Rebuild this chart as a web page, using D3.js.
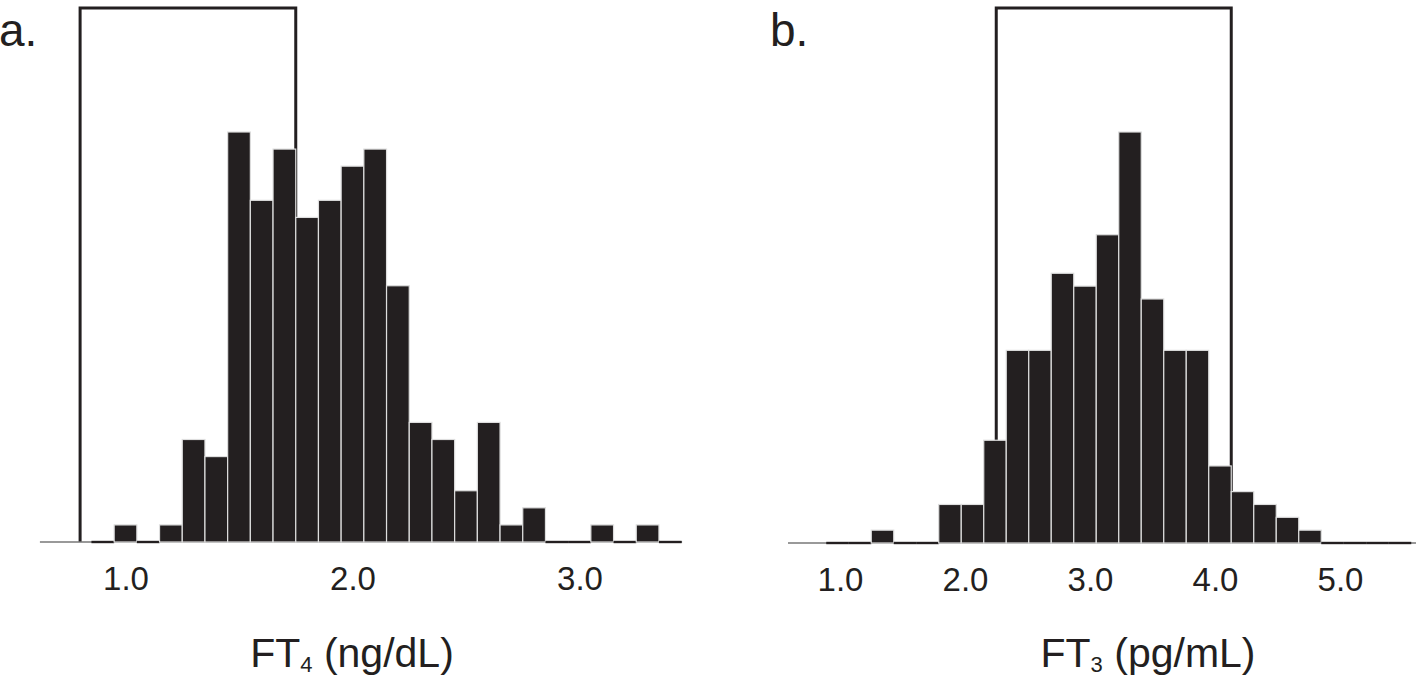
<!DOCTYPE html>
<html>
<head>
<meta charset="utf-8">
<script src="https://cdn.jsdelivr.net/npm/d3@7"></script>
<style>
  body { margin: 0; background: #fff; }
  text { font-family: "Liberation Sans", Arial, Helvetica, sans-serif; fill: #231f20; }
</style>
</head>
<body>
<div id="canvas"></div>
<script>
// FT4 histogram, bins of 0.1 ng/dL (lower edge of each bin)
var ft4Starts = [0.85, 0.95, 1.05, 1.15, 1.25, 1.35, 1.45, 1.55, 1.65, 1.75, 1.85, 1.95, 2.05,
                 2.15, 2.25, 2.35, 2.45, 2.55, 2.65, 2.75, 2.85, 2.95, 3.05, 3.15, 3.25, 3.35];
var ft4Counts = [0, 1, 0, 1, 6, 5, 24, 20, 23, 19, 20, 22, 23, 15, 7, 6, 3, 7, 1, 2, 0, 0, 1, 0, 1, 0];
var ft4Ticks = [1.0, 2.0, 3.0];
var ft4Range = [0.8, 1.75];

// FT3 histogram (lower edge of each bin)
var ft3Starts = [0.89, 1.07, 1.25, 1.43, 1.61, 1.79, 1.97, 2.15, 2.33, 2.51, 2.69, 2.87, 3.05,
                 3.23, 3.41, 3.59, 3.77, 3.95, 4.13, 4.31, 4.49, 4.67, 4.85, 5.03, 5.21, 5.39];
var ft3Counts = [0, 0, 1, 0, 0, 3, 3, 8, 15, 15, 21, 20, 24, 32, 19, 15, 15, 6, 4, 3, 2, 1, 0, 0, 0, 0];
var ft3Ticks = [1.0, 2.0, 3.0, 4.0, 5.0];
var ft3Range = [2.25, 4.13];

var w = 1424, h = 676;
var dark = "#231f20";

var svg = d3.select("#canvas").append("svg")
    .attr("width", w)
    .attr("height", h);

function drawPanel(p) {
    var x = d3.scaleLinear().domain(p.domain).range(p.range);
    var y = d3.scaleLinear().domain([0, d3.max(p.counts)]).range([p.base, 132]);
    var g = svg.append("g");

    var bins = p.starts.map(function(s, i) {
        return { x0: s, x1: s + p.binW, n: p.counts[i] };
    });

    // reference range bracket (behind the bars)
    g.append("path")
        .attr("d", "M" + x(p.refRange[0]) + "," + p.base + "V8H" + x(p.refRange[1]) + "V" + p.base)
        .attr("fill", "none")
        .attr("stroke", dark)
        .attr("stroke-width", 3);

    // baseline
    g.append("line")
        .attr("x1", x(p.extent[0])).attr("x2", x(p.extent[1]))
        .attr("y1", p.base).attr("y2", p.base)
        .attr("stroke", "#777")
        .attr("stroke-width", 1.5);

    g.selectAll("rect.bar")
        .data(bins)
        .enter().append("rect")
        .attr("class", "bar")
        .attr("x", d => x(d.x0))
        .attr("width", d => x(d.x1) - x(d.x0))
        .attr("y", d => d.n > 0 ? y(d.n) : p.base - 1.2)
        .attr("height", d => d.n > 0 ? p.base - y(d.n) : 2.4)
        .attr("fill", dark)
        .attr("stroke", d => d.n > 0 ? "#dedede" : "none")
        .attr("stroke-width", 1.2);

    var axis = d3.axisBottom(x)
        .tickValues(p.ticks)
        .tickSize(0)
        .tickPadding(25)
        .tickFormat(d3.format(".1f"));
    var ax = g.append("g")
        .attr("transform", `translate(0,${p.base})`)
        .call(axis);
    ax.select(".domain").remove();
    ax.selectAll("text")
        .attr("font-size", 33)
        .attr("font-family", null)
        .attr("fill", dark);

    var t = g.append("text")
        .attr("x", p.titleX)
        .attr("y", 667)
        .attr("text-anchor", "middle")
        .attr("font-size", 41);
    t.append("tspan").text("FT");
    t.append("tspan").attr("font-size", 22).attr("dy", 5).text(p.sub);
    t.append("tspan").attr("dy", -5).text(" " + p.unit);

    g.append("text")
        .attr("x", p.letterX)
        .attr("y", 46)
        .attr("font-size", 46)
        .text(p.letter);
}

drawPanel({
    starts: ft4Starts, counts: ft4Counts, binW: 0.1, ticks: ft4Ticks, refRange: ft4Range,
    domain: [1, 3], range: [125.5, 579.5], extent: [0.623, 3.452], base: 542,
    sub: "4", unit: "(ng/dL)", titleX: 352, letter: "a.", letterX: -1
});

drawPanel({
    starts: ft3Starts, counts: ft3Counts, binW: 0.18, ticks: ft3Ticks, refRange: ft3Range,
    domain: [1, 5], range: [840, 1340], extent: [0.584, 5.608], base: 543,
    sub: "3", unit: "(pg/mL)", titleX: 1148, letter: "b.", letterX: 770
});
</script>
</body>
</html>
